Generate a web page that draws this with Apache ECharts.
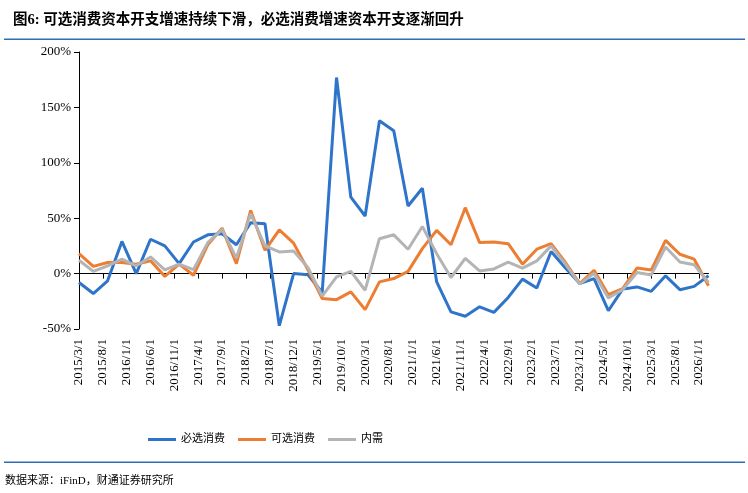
<!DOCTYPE html>
<html>
<head>
<meta charset="utf-8">
<script src="https://cdn.jsdelivr.net/npm/echarts@6/dist/echarts.min.js"></script>
<style>
  html, body { margin: 0; padding: 0; background: #fff; }
  #chart { width: 748px; height: 493px; }
</style>
</head>
<body>
<div id="chart"></div>
<script>
// 月度横轴 2015/3/1 ~ 2026/3/1，数据为季度
const months = []
for (let y = 2015, m = 3; y < 2026 || (y === 2026 && m <= 3);) {
  months.push(y + '/' + m + '/1')
  m++
  if (m > 12) { m = 1; y++ }
}
const quarterDates = months.filter((d, i) => i % 3 === 0)

// 必选消费
const essential = [-8, -18, -6.5, 29, 0, 31, 25, 9, 28.5, 35, 36, 26, 46, 45, -47, 0, -1, -17, 177, 69, 52, 138, 129, 61, 77, -7.5, -34.5, -38.5, -30, -35, -21.5, -5, -13, 20, 5, -9, -4.5, -33.5, -14, -12, -16, -2, -14.5, -11.5, -2]
// 可选消费
const optional = [18, 6.5, 10, 10, 8.5, 11.5, -2.5, 8.5, -1.5, 26, 41, 9, 57, 21, 39.5, 27.5, 3.5, -22.5, -23.5, -16.5, -32.5, -7.5, -4.5, 2, 22.5, 39, 26, 59.5, 28, 28.5, 27, 8.5, 22, 27, 10, -9, 3, -19, -13.5, 5, 3.2, 30, 17.5, 13, -11]
// 内需
const domestic = [12, 2, 7, 13, 7, 15, 3.3, 8.5, 3.5, 28, 40, 14, 54, 25, 19.5, 20.3, 5.5, -20.3, -3, 2, -15, 31.5, 35, 22, 42.5, 18, -3.5, 13.8, 2.4, 4.2, 10.3, 5, 11.5, 25, 8.5, -9.5, 0.3, -22, -14.5, 1, -1.2, 24, 10.5, 8, -8]

const seriesNames = ['必选消费', '可选消费', '内需']
const colors = ['#2E74C8', '#ED7D31', '#B4B4B4']

const serif = "'Liberation Serif', 'Noto Sans CJK SC', serif"
const chart = echarts.init(document.getElementById('chart'))

const toPairs = (arr) => arr.map((v, i) => [quarterDates[i], v])

const option = {
  animation: false,
  title: {
    text: '图6: 可选消费资本开支增速持续下滑，必选消费增速资本开支逐渐回升',
    left: 8,
    top: 8,
    textStyle: { fontFamily: serif, fontSize: 14.5, fontWeight: 'bold', color: '#000' }
  },
  graphic: [
    { type: 'rect', shape: { x: 4, y: 38.5, width: 741, height: 1.5 }, style: { fill: '#2E6DB4' } },
    { type: 'rect', shape: { x: 4, y: 461.5, width: 741, height: 1.5 }, style: { fill: '#2E6DB4' } },
    {
      type: 'text', left: 5, top: 476,
      style: { text: '数据来源：iFinD，财通证券研究所', fontFamily: serif, fontSize: 11, fill: '#000' }
    }
  ],
  legend: {
    data: seriesNames,
    top: 429,
    left: 143,
    icon: 'rect',
    itemWidth: 28,
    itemHeight: 3,
    itemGap: 13,
    textStyle: { fontFamily: serif, fontSize: 11, color: '#000' }
  },
  grid: { left: 79, right: 39.5, top: 52, height: 277, containLabel: false },
  xAxis: [
    {
      type: 'category',
      data: months,
      boundaryGap: false,
      axisLine: { show: false, onZero: false },
      axisTick: { show: false },
      axisLabel: {
        interval: 4,
        rotate: 90,
        margin: 10,
        fontFamily: serif,
        fontSize: 13,
        color: '#000'
      },
      splitLine: { show: false }
    },
    {
      type: 'category',
      data: months,
      position: 'bottom',
      boundaryGap: false,
      axisLine: { onZero: true, lineStyle: { color: '#000', width: 1 } },
      axisTick: { show: true, interval: 4, length: 5, lineStyle: { color: '#000' } },
      axisLabel: { show: false },
      splitLine: { show: false }
    }
  ],
  yAxis: {
    type: 'value',
    min: -50,
    max: 200,
    interval: 50,
    axisLine: { show: true, lineStyle: { color: '#000' } },
    axisTick: { show: true, length: 5, lineStyle: { color: '#000' } },
    axisLabel: { formatter: '{value}%', fontFamily: serif, fontSize: 13, color: '#000', margin: 8 },
    splitLine: { show: false }
  },
  series: [essential, optional, domestic].map((arr, i) => ({
    name: seriesNames[i],
    type: 'line',
    xAxisIndex: 0,
    data: toPairs(arr),
    showSymbol: false,
    symbol: 'none',
    lineStyle: { color: colors[i], width: 3 },
    itemStyle: { color: colors[i] }
  }))
}

chart.setOption(option)
</script>
</body>
</html>
